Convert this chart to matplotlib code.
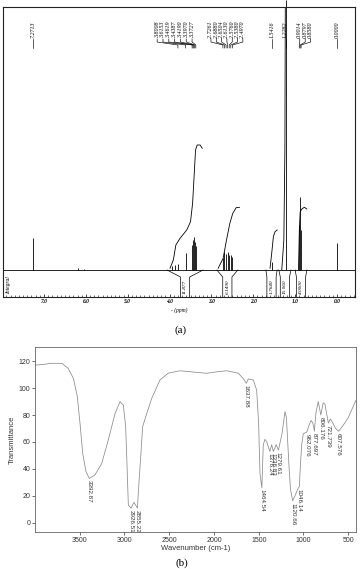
import matplotlib
matplotlib.use('Agg')
import matplotlib.pyplot as plt
from matplotlib.ticker import MultipleLocator
import numpy as np

plt.rcParams['font.family'] = ['Liberation Sans', 'DejaVu Sans']

# ---------------- (a) 1H NMR data ----------------
# stick spectrum: shift (ppm) and height (arbitrary units, baseline = 0)
nmr_ppm = [7.2713, 6.20, 6.05, 3.95, 3.88, 3.8008, 3.6153, 3.4619, 3.4387, 3.4190, 3.3970, 3.3727,
           2.7261, 2.6880, 2.6504, 2.6130, 2.5760, 2.5380, 2.4970,
           1.5416, 1.2282, 0.9014, 0.8797, 0.8580, 0.0000]
nmr_height = [32, 2, 1.5, 4, 5, 6, 17, 25, 30, 33, 28, 24,
              12, 18, 16, 18, 15, 15, 13,
              8, 270, 45, 73, 40, 27]

# peak label groups
grp1_ppm = [3.8008, 3.6153, 3.4619, 3.4387, 3.4190, 3.3970, 3.3727]
grp2_ppm = [2.7261, 2.6880, 2.6504, 2.6130, 2.5760, 2.5380, 2.4970]
grp3_ppm = [0.9014, 0.8797, 0.8580]
single_ppm = [7.2713, 1.5416, 1.2282, 0.0000]

# integral curves
int1_ppm = [3.99, 3.91, 3.85, 3.75, 3.59, 3.50, 3.45, 3.41, 3.38, 3.34, 3.27, 3.22]
int1_h = [1.7, 10, 25, 31.7, 40, 48.3, 66.7, 96.7, 120, 125, 125, 121.7]
int2_ppm = [2.84, 2.72, 2.64, 2.56, 2.49, 2.41, 2.33]
int2_h = [1.7, 11.7, 30, 46.7, 56.7, 62.3, 62.7]
int3_ppm = [1.60, 1.56, 1.52, 1.48, 1.43]
int3_h = [1.7, 16.7, 33.3, 38.3, 40]
int4_ppm = [1.32, 1.27, 1.245, 1.235]
int4_h = [0, 30, 120, 270]
int5_ppm = [0.92, 0.90, 0.88, 0.84, 0.78, 0.72]
int5_h = [0, 40, 58, 61, 62.7, 61]

# integration ranges and values
int_start = [4.06, 2.87, 1.70, 1.39, 1.00]
int_end = [3.20, 2.37, 1.43, 1.10, 0.72]
int_value = ['11.877', '6.1490', '1.7640', '15.060', '4.0000']

# ---------------- (b) IR data ----------------
ir_wn = [4000, 3900, 3830, 3700, 3630, 3570, 3527, 3497, 3467, 3430, 3393, 3330, 3255, 3181,
         3106, 3050, 3013, 2987, 2975, 2957, 2927, 2894, 2855, 2846, 2819, 2797, 2763, 2696,
         2603, 2511, 2380, 2193, 2082, 1970, 1858, 1728, 1673, 1638, 1617, 1561, 1523, 1501,
         1486, 1465, 1449, 1430, 1410, 1376, 1355, 1337, 1305, 1280, 1240, 1207, 1190, 1181,
         1160, 1145, 1121, 1095, 1065, 1046, 1035, 1020, 1002, 962, 940, 915, 895, 878, 860,
         835, 806, 780, 760, 722, 700, 680, 640, 608, 560, 500, 413]
ir_t = [117, 117.5, 118.3, 118.3, 114.6, 107, 93.6, 73.8, 51.6, 38, 33, 35.6, 44, 61.5,
        81, 89.9, 87.4, 71.4, 49, 13.3, 11, 15.3, 11, 22, 49, 71.4, 78.7, 92.3,
        106, 111, 112.8, 111.6, 110.9, 112, 112.8, 111, 107, 103.5, 106.7, 106, 98.5, 73.8,
        36.8, 26, 58, 62, 60, 53, 58, 53, 58, 54, 66, 82.5, 78, 66,
        40, 25, 16.5, 20, 25, 27, 42, 58, 66, 67.5, 72, 76, 74, 68, 82,
        90, 80, 89, 88, 74, 77, 75, 70, 68, 72, 78, 91]
ir_labels = ['3392.87', '2926.51', '2855.22', '1637.88', '1464.54', '1376.24', '1336.83',
             '1279.61', '1120.66', '1046.14', '962.076', '877.697', '806.176', '721.739', '607.576']

W, H = 360.0, 569.0
fig = plt.figure(figsize=(3.6, 5.69), dpi=100)

serif = ['Liberation Serif', 'DejaVu Serif']

# ---------- NMR panel ----------
ax1 = fig.add_axes([3 / W, 1 - 297 / H, 352 / W, 290 / H])
ax1.set_xlim(7.98, -0.43)
ax1.set_ylim(-27, 263)
ax1.axhline(0, color='k', lw=0.6)
ax1.vlines(nmr_ppm, 0, nmr_height, color='k', lw=0.6, clip_on=False)

for xs, ys in [(int1_ppm, int1_h), (int2_ppm, int2_h), (int3_ppm, int3_h),
               (int4_ppm, int4_h), (int5_ppm, int5_h)]:
    ax1.plot(xs, ys, color='k', lw=0.6)

lab_kw = dict(rotation=90, ha='center', va='bottom', fontsize=4.3,
              family=serif, style='italic')


def label_group(ppms, centre, step):
    n = len(ppms)
    for i, p in enumerate(ppms):
        lx = centre + (n - 1) / 2 * step - i * step
        ax1.text(lx, 232, '%.4f' % p, **lab_kw)
        ax1.plot([lx, lx, p, p], [231, 228, 225, 222], color='k', lw=0.45)


label_group(grp1_ppm, 3.88, 0.139)
label_group(grp2_ppm, 2.63, 0.127)
label_group(grp3_ppm, 0.76, 0.13)
for p in single_ppm:
    label_group([p], p, 0)

# integral brackets
half = 0.11
for s, e, v in zip(int_start, int_end, int_value):
    c = (s + e) / 2
    ax1.plot([s, c + half, c + half], [0, -7, -27], color='k', lw=0.5)
    ax1.plot([e, c - half, c - half], [0, -7, -27], color='k', lw=0.5)
    ax1.text(c, -17, v, rotation=90, ha='center', va='center', fontsize=3.8,
             family=serif, style='italic')

ax1.text(0.017, -15, 'Integral', transform=ax1.get_yaxis_transform(), rotation=90,
         ha='center', va='center', fontsize=4, family=serif, style='italic')

ax1.set_yticks([])
ax1.set_xticks(range(0, 8))
ax1.set_xticklabels(['%.1f' % t for t in range(0, 8)], family=serif, style='italic',
                    fontweight='bold', fontsize=4)
ax1.xaxis.set_minor_locator(MultipleLocator(0.1))
ax1.tick_params(axis='x', which='major', direction='in', length=2.5, width=0.5, pad=1.5)
ax1.tick_params(axis='x', which='minor', direction='in', length=1.5, width=0.4)
ax1.set_xlabel('- (ppm)', fontsize=4, family=serif, style='italic', labelpad=2)
for sp in ax1.spines.values():
    sp.set_linewidth(0.8)
    sp.set_color('#222222')

fig.text(181 / W, 1 - 330 / H, '(a)', ha='center', va='center', fontsize=8, family=serif)

# ---------- IR panel ----------
ax2 = fig.add_axes([35 / W, 1 - 532 / H, 321 / W, 185 / H])
ax2.plot(ir_wn, ir_t, color='#8a8a8a', lw=0.55)
ax2.set_xlim(4000, 413)
ax2.set_ylim(-6.7, 130.4)
ax2.set_xticks([3500, 3000, 2500, 2000, 1500, 1000, 500])
ax2.set_yticks(range(0, 121, 20))
ax2.tick_params(labelsize=5, length=2, width=0.5, pad=1.5, colors='#333333')
ax2.set_xlabel('Wavenumber (cm-1)', fontsize=5.5, labelpad=0.5, color='#333333')
ax2.set_ylabel('Transmittance', fontsize=5.5, labelpad=2, color='#333333')
for sp in ax2.spines.values():
    sp.set_linewidth(0.6)
    sp.set_color('#666666')

wn_inc = np.array(ir_wn[::-1], dtype=float)
t_inc = np.array(ir_t[::-1], dtype=float)
for lab in ir_labels:
    w = float(lab)
    ax2.text(w, np.interp(w, wn_inc, t_inc) - 1.5, lab, rotation=270, ha='center', va='top',
             fontsize=4.5, color='#333333')

fig.text(182 / W, 1 - 568 / H, '(b)', ha='center', va='bottom', fontsize=8, family=serif)

fig.savefig('out.png', dpi=100)
